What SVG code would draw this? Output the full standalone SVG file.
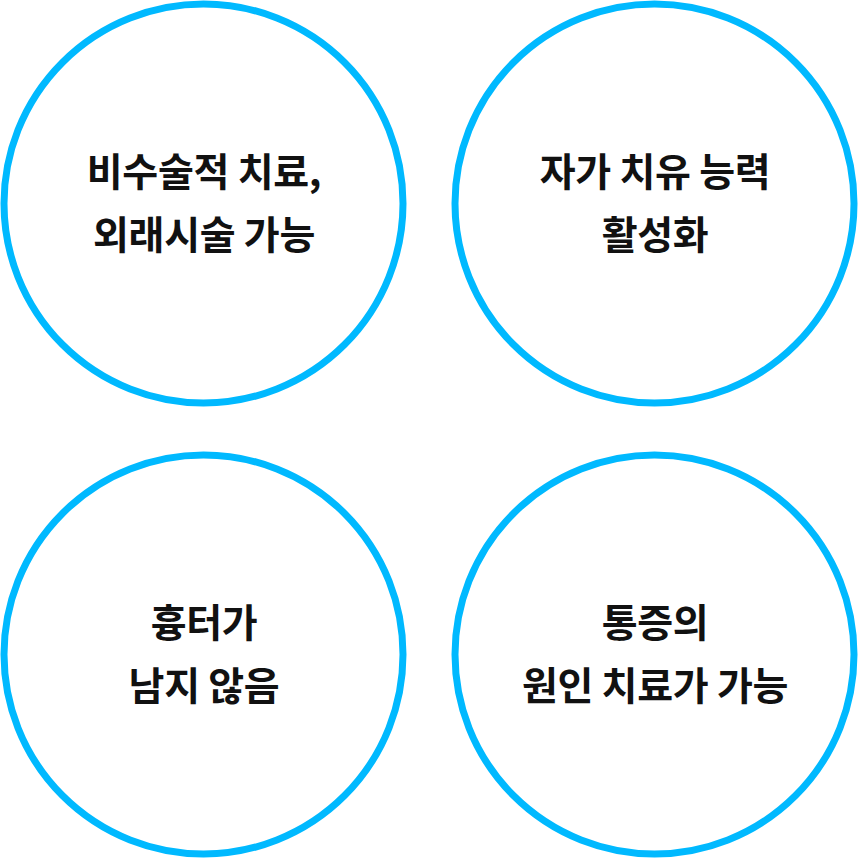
<svg xmlns="http://www.w3.org/2000/svg" width="858" height="858" viewBox="0 0 858 858">
<style>
.ring{fill:#fff;stroke:#00b9ff;stroke-width:7}
.t{font-family:"Noto Sans CJK KR","Noto Sans",sans-serif;font-size:39px;font-weight:700;fill:#111;text-anchor:middle;letter-spacing:-0.3px}
</style>
<rect width="858" height="858" fill="#fff"/>
<g id="node1"><circle class="ring" cx="203.5" cy="203.5" r="199.5"/><text class="t" x="204" y="186">비수술적 치료,</text><text class="t" x="204" y="249">외래시술 가능</text></g>
<g id="node2"><circle class="ring" cx="654.5" cy="203.5" r="199.5"/><text class="t" x="655" y="186">자가 치유 능력</text><text class="t" x="655" y="249">활성화</text></g>
<g id="node3"><circle class="ring" cx="203.5" cy="654.5" r="199.5"/><text class="t" x="204" y="637">흉터가</text><text class="t" x="204" y="700">남지 않음</text></g>
<g id="node4"><circle class="ring" cx="654.5" cy="654.5" r="199.5"/><text class="t" x="655" y="637">통증의</text><text class="t" x="655" y="700">원인 치료가 가능</text></g>
<g id="connectors"/>
</svg>
